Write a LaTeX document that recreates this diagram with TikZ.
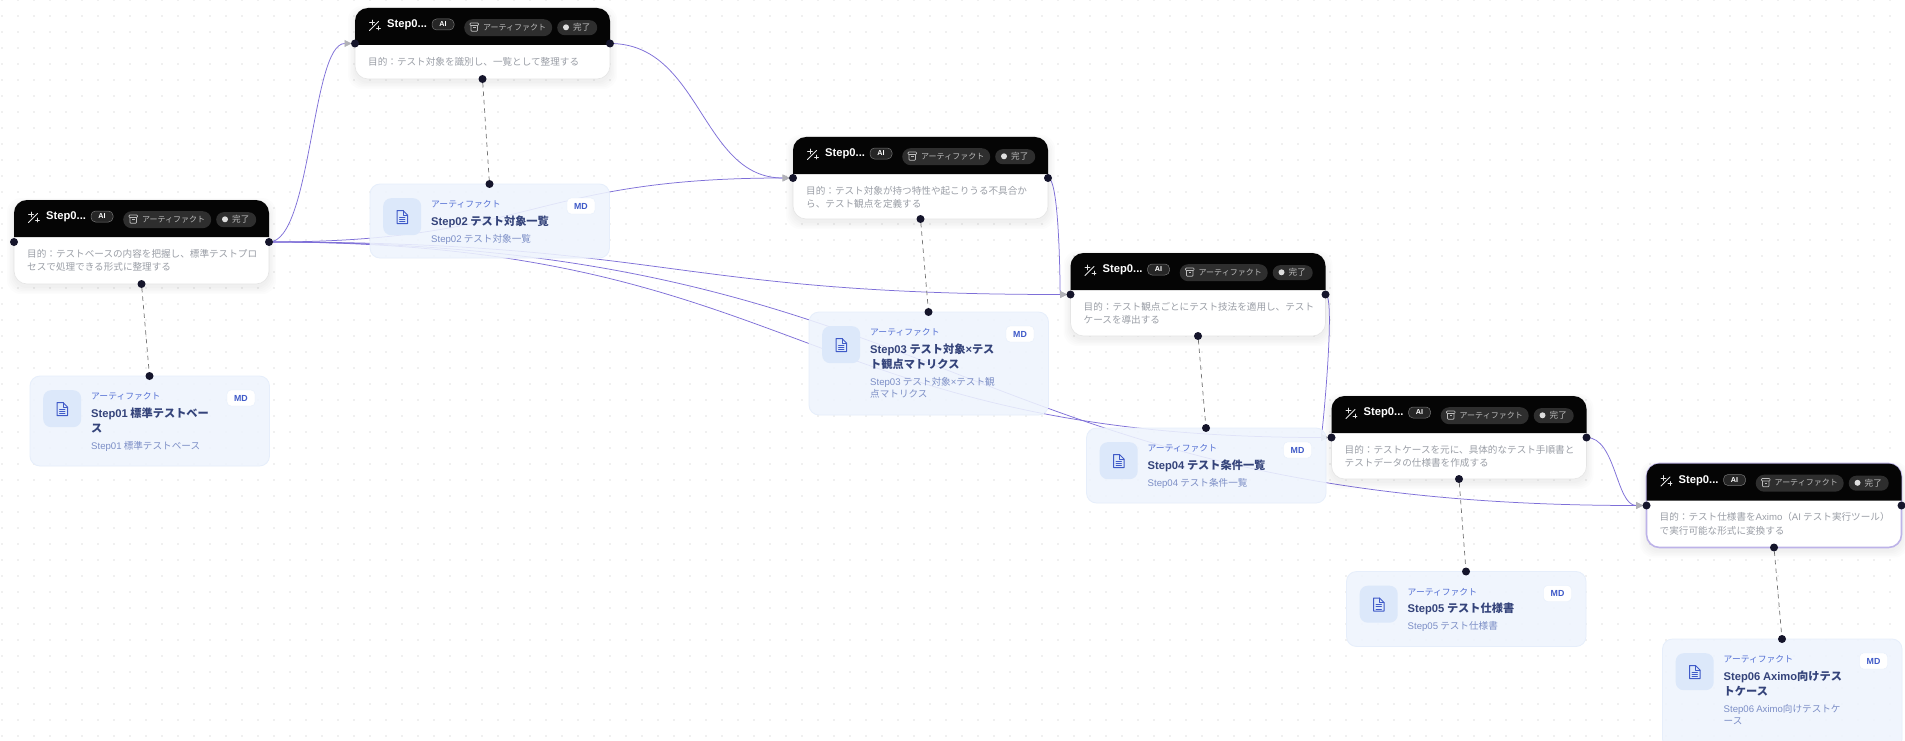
\documentclass[tikz,border=0pt]{standalone}
\usepackage{fontspec}
\setmainfont{Noto Sans CJK JP}
\newfontfamily\latinfont{Liberation Sans}
\usetikzlibrary{arrows.meta}
\newcommand\la[1]{{\latinfont #1}}
\definecolor{edgepurple}{HTML}{7E6FD8}
\definecolor{headgray}{HTML}{B1B1B7}
\definecolor{handlecol}{HTML}{15152B}
\definecolor{artfill}{HTML}{EEF4FD}
\definecolor{artline}{HTML}{E6EEFB}
\definecolor{iconbox}{HTML}{DCE8FA}
\definecolor{iconcol}{HTML}{3F5AC8}
\definecolor{kickercol}{HTML}{5470D4}
\definecolor{titlecol}{HTML}{34437A}
\definecolor{subcol}{HTML}{7C8EC6}
\definecolor{desccol}{HTML}{9A9EA6}
\definecolor{pillfill}{HTML}{2E2E2E}
\definecolor{pilltext}{HTML}{BDBDBD}
\definecolor{lilac}{HTML}{BDB3E8}
\pgfdeclarelayer{edgelayer}
\pgfsetlayers{edgelayer,main}
\tikzset{
  handle/.style={circle,fill=handlecol,minimum size=8pt,inner sep=0pt,outer sep=0pt},
  flow/.style={edgepurple,line width=.75pt,-{Triangle[length=7pt,width=7pt,color=headgray]},shorten >=3.5pt},
  depedge/.style={draw=black!55,line width=.7pt,dash pattern=on 4.5pt off 4pt},
  griddot/.style={fill=black!24},
  cardbody/.style={draw=black!10,line width=.6pt,fill=white,rounded corners=13pt,anchor=north west,inner sep=0pt,outer sep=0pt,minimum width=255pt},
  selbody/.style={cardbody,draw=lilac,line width=1.6pt},
  desctext/.style={text=desccol,anchor=north west,inner sep=0pt,align=left,font=\fontsize{9.6}{13.2}\selectfont},
  artbody/.style={draw=artline,line width=.8pt,fill=artfill,fill opacity=.88,rounded corners=10pt,anchor=north west,inner sep=0pt,outer sep=0pt,minimum width=239.5pt},
  iconbg/.style={fill=iconbox,rounded corners=8pt,anchor=north west,inner sep=0pt,minimum width=38pt,minimum height=37pt},
  mdbadge/.style={fill=white,draw=artline,line width=.4pt,rounded corners=4pt,inner sep=0pt,minimum width=28pt,minimum height=16pt,text=iconcol,font=\fontsize{8.8}{10}\selectfont\bfseries\latinfont},
  kicker/.style={text=kickercol,anchor=north west,inner sep=0pt,font=\fontsize{8.8}{10}\selectfont},
  arttitle/.style={text=titlecol,anchor=north west,inner sep=0pt,align=left,font=\fontsize{11.2}{15}\selectfont\bfseries},
  artsub/.style={text=subcol,anchor=north west,inner sep=0pt,align=left,font=\fontsize{9.6}{12.6}\selectfont},
  aibadge/.style={fill=black!85,draw=black!55,line width=.5pt,rounded corners=4.5pt,inner sep=0pt,minimum width=22pt,minimum height=11pt,text=white,font=\fontsize{7.2}{8}\selectfont\bfseries\latinfont},
  pillshape/.style={fill=pillfill,rounded corners=8.5pt,anchor=north west,inner sep=0pt,minimum width=88pt,minimum height=17pt},
  statusshape/.style={fill=black!82,rounded corners=7.5pt,anchor=north west,inner sep=0pt,minimum width=40pt,minimum height=15pt},
  pilllabel/.style={text=pilltext,anchor=west,inner sep=0pt,font=\fontsize{8}{9}\selectfont},
}
\newcommand\stepcard[6][cardbody]{% style, id, x, y, h, description
  \begin{scope}[shift={(#3,#4)}]
    \foreach \s in {7,5.5,4,2.5,1}
      \fill[black,opacity=.012,rounded corners=14pt] (-\s,5-\s) rectangle (255+\s,#5+3+\s);
    \node (c#2) [#1,minimum height=#5 pt] at (0,0) {};
    \fill[black!98] (0,37) [rounded corners=13pt] -- (0,0) -- (255,0) [sharp corners] -- (255,37) -- cycle;
    \begin{scope}[white!90!black,line width=.9pt,line cap=round]
      \draw (14.5,22.5) -- (23.5,13.5);
      \draw[line width=.6pt] (17,12) -- (17,17) (14.5,14.5) -- (19.5,14.5) (23.5,18) -- (23.5,22) (21.5,20) -- (25.5,20);
    \end{scope}
    \node (c#2name) [text=white,anchor=west,inner sep=0pt,font=\fontsize{11.2}{13}\selectfont\bfseries\latinfont] at (32,17.2) {Step0...};
    \node (c#2ai) [aibadge] at (88,16.5) {AI};
    \node (c#2pill) [pillshape] at (109,11) {};
    \draw[pilltext,line width=.65pt,rounded corners=.8pt] (115,15) rectangle (123.5,17.5);
    \draw[pilltext,line width=.65pt,rounded corners=.8pt] (116,17.5) -- (116,23.2) -- (122.5,23.2) -- (122.5,17.5);
    \draw[pilltext,line width=.65pt] (118,19.8) -- (120.5,19.8);
    \node (c#2art) [pilllabel] at (128,19.5) {アーティファクト};
    \node (c#2status) [statusshape] at (202,12) {};
    \fill[black!13] (211,19.3) circle (3pt);
    \node (c#2done) [pilllabel,font=\fontsize{8.6}{9}\selectfont] at (218,19.5) {完了};
    \node (c#2desc) [desctext] at (13,49) {#6};
    \node (c#2l) [handle] at (0,#5/2) {};
    \node (c#2r) [handle] at (255,#5/2) {};
    \node (c#2b) [handle] at (127.5,#5) {};
  \end{scope}
}
\newcommand\artifact[6]{% id, x, y, h, title, sub ; sub position via \subtop
  \begin{scope}[shift={(#2,#3)}]
    \node (a#1) [artbody,minimum height=#4 pt] at (0,0) {};
    \node (a#1icon) [iconbg] at (13,14) {};
    \begin{scope}[iconcol,line width=1pt,line join=round,line cap=round]
      \draw (27,26.5) -- (33,26.5) -- (37.5,31) -- (37.5,39.5) -- (27,39.5) -- cycle;
      \draw[line width=.8pt] (33,26.5) -- (33,31) -- (37.5,31);
      \draw[line width=.8pt] (29.5,33) -- (35,33) (29.5,35.2) -- (35,35.2) (29.5,37.4) -- (35,37.4);
    \end{scope}
    \node (a#1kick) [kicker] at (61,16.3) {アーティファクト};
    \node (a#1md) [mdbadge] at (211,22) {MD};
    \node (a#1title) [arttitle] at (61,31.5) {#5};
    \node (a#1sub) [artsub] at (61,\subtop) {#6};
    \node (a#1t) [handle] at (119.5,0) {};
  \end{scope}
}
\begin{document}
\begin{tikzpicture}[x=1pt,y=-1pt]
\useasboundingbox (0,0) rectangle (1905,741);

\stepcard{1}{14}{200}{84}{目的：テストベースの内容を把握し、標準テストプロ\\セスで処理できる形式に整理する}
\stepcard{2}{355}{8}{71}{目的：テスト対象を識別し、一覧として整理する}
\stepcard{3}{793}{137}{82}{目的：テスト対象が持つ特性や起こりうる不具合か\\ら、テスト観点を定義する}
\stepcard{4}{1070.5}{253}{83}{目的：テスト観点ごとにテスト技法を適用し、テスト\\ケースを導出する}
\stepcard{5}{1331.5}{396}{83}{目的：テストケースを元に、具体的なテスト手順書と\\テストデータの仕様書を作成する}
\stepcard[selbody]{6}{1646.5}{463.5}{84}{目的：テスト仕様書を\la{Aximo}（\la{AI} テスト実行ツール）\\で実行可能な形式に変換する}

\def\subtop{65}
\artifact{1}{30}{376}{90}{\la{Step01} 標準テストベー\\ス}{\la{Step01} 標準テストベース}
\def\subtop{50}
\artifact{2}{370}{184}{74}{\la{Step02} テスト対象一覧}{\la{Step02} テスト対象一覧}
\def\subtop{65}
\artifact{3}{809}{312}{103}{\la{Step03} テスト対象\la{×}テス\\ト観点マトリクス}{\la{Step03} テスト対象\la{×}テスト観\\点マトリクス}
\def\subtop{50}
\artifact{4}{1086.5}{428}{75}{\la{Step04} テスト条件一覧}{\la{Step04} テスト条件一覧}
\artifact{5}{1346.5}{571.5}{75}{\la{Step05} テスト仕様書}{\la{Step05} テスト仕様書}
\def\subtop{65}
\artifact{6}{1662.5}{639}{110}{\la{Step06} \la{Aximo}向けテス\\トケース}{\la{Step06} \la{Aximo}向けテストケ\\ース}

\begin{pgfonlayer}{edgelayer}
  \fill[white] (0,0) rectangle (1905,741);
  \foreach \i in {0,...,119} {
    \fill[griddot] \foreach \j in {0,...,46} {(2+16*\i,16*\j) circle (.7pt)};
  }
  \draw[flow] (c1r.center) .. controls (311.5,242) and (311.5,43.5) .. (c2l.center);
  \draw[flow] (c1r.center) .. controls (531,242) and (531,178) .. (c3l.center);
  \draw[flow] (c1r.center) .. controls (670,242) and (670,294.5) .. (c4l.center);
  \draw[flow] (c1r.center) .. controls (800,242) and (800,437.5) .. (c5l.center);
  \draw[flow] (c1r.center) .. controls (958,242) and (958,505.5) .. (c6l.center);
  \draw[flow] (c2r.center) .. controls (701,43.5) and (701,178) .. (c3l.center);
  \draw[flow] (c3r.center) .. controls (1060,178) and (1060,294.5) .. (c4l.center);
  \draw[flow] (c4r.center) .. controls (1336,294.5) and (1322,437.5) .. (c5l.center);
  \draw[flow] (c5r.center) .. controls (1616,437.5) and (1616,505.5) .. (c6l.center);
  \draw[depedge] (c1b) -- (a1t);
  \draw[depedge] (c2b) -- (a2t);
  \draw[depedge] (c3b) -- (a3t);
  \draw[depedge] (c4b) -- (a4t);
  \draw[depedge] (c5b) -- (a5t);
  \draw[depedge] (c6b) -- (a6t);
\end{pgfonlayer}
\end{tikzpicture}
\end{document}
